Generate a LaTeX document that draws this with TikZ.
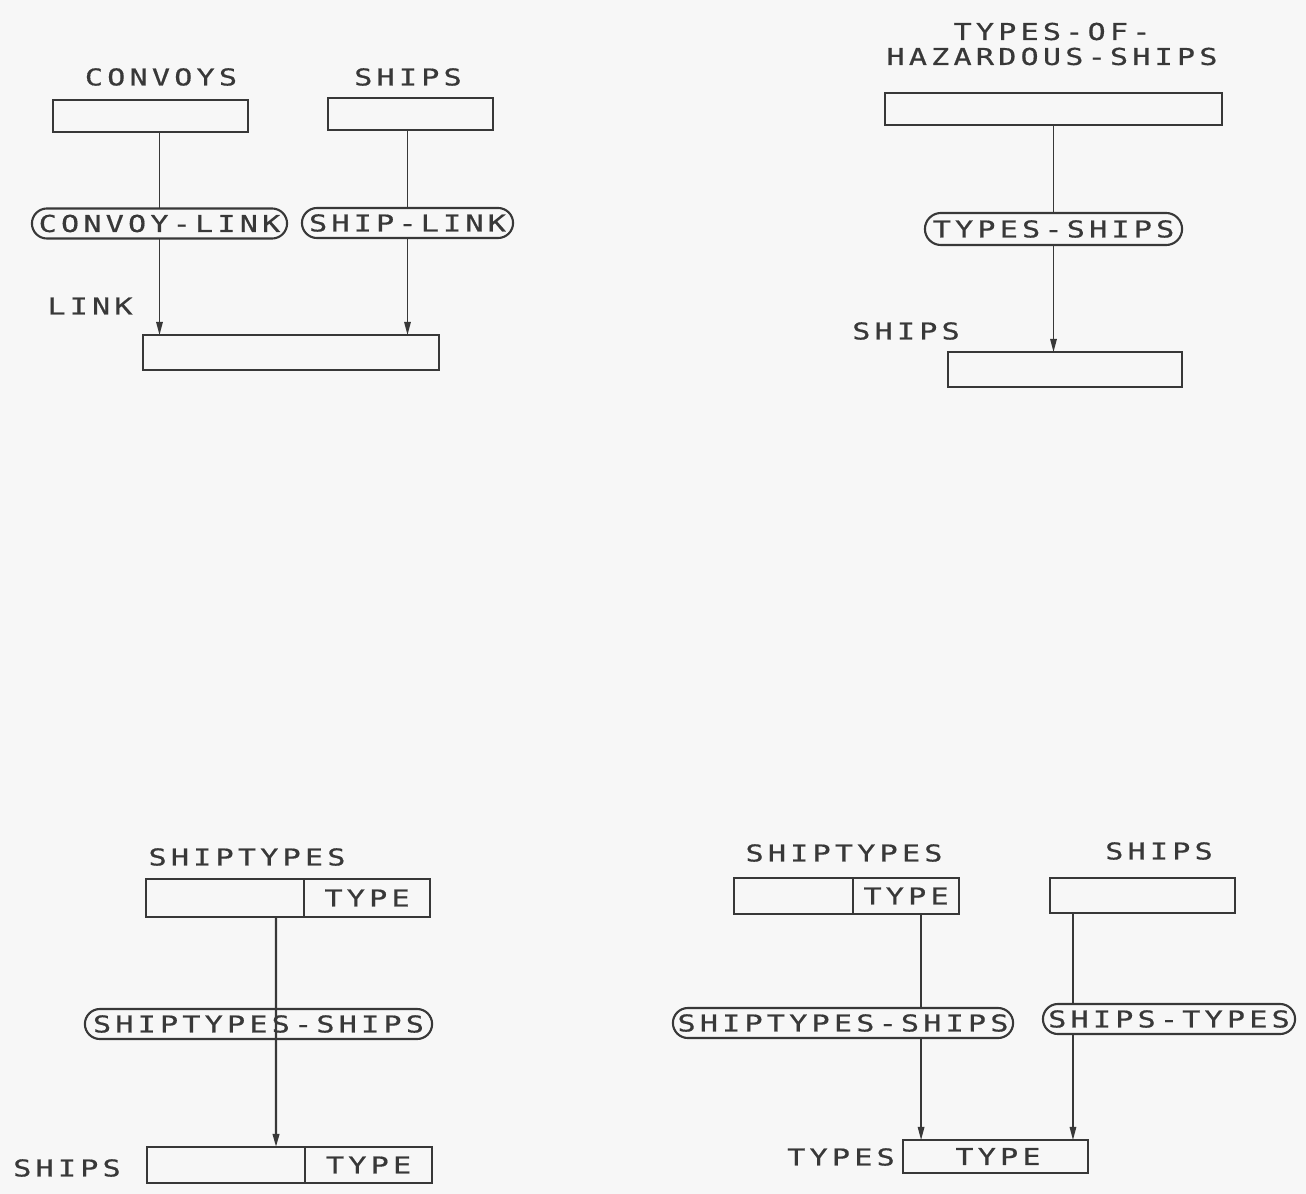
\documentclass[tikz,border=0pt]{standalone}
\usepackage{fontspec}
\usepackage{tikz}
\usetikzlibrary{positioning, arrows.meta, calc, backgrounds, shapes.misc}

\newfontfamily\plotter[FakeStretch=1.3, LetterSpace=18, FakeBold=0.6]{DejaVu Sans Mono}
\newcommand{\plotfont}{\fontsize{6.6pt}{7.1pt}\plotter}
\definecolor{ink}{HTML}{383838}
\definecolor{paper}{HTML}{F7F7F7}

\begin{document}
\begin{tikzpicture}[
	x=0.01cm, y=-0.01cm, % pixel grid of the drawing
	line width=0.6pt,
	>={Triangle[length=1.3mm, width=0.65mm]},
	% Style for Text
	title/.style={
		inner sep=0pt,
		align=center,
		text=ink,
		font=\plotfont
	},
	% Style for Record Boxes
	field/.style={
		rectangle,
		draw=ink,
		inner sep=0pt,
		outer sep=0pt,
		minimum height=0.35cm,
		text=ink,
		font=\plotfont
	},
	% Style for Set Ovals
	relation/.style={
		rounded rectangle,
		draw=ink,
		fill=paper,
		inner sep=0pt,
		minimum height=0.30cm,
		text=ink,
		font=\plotfont
	},
	% Arrow Style
	connection/.style={->, draw=ink}
	]
	
	% --- TOP LEFT: LINK RECORD ---
	
	\node[title] (convoysL) at (161,77) {CONVOYS};
	\node[field, minimum width=1.95cm, minimum height=0.32cm] (convoys) at (150.5,116) {};
	\node[title] (shipsL) at (408,77) {SHIPS};
	\node[field, minimum width=1.65cm, minimum height=0.32cm] (ships) at (410.5,114) {};
	
	\node[relation, minimum width=2.55cm] (convoyLink) at (159.5,223.5) {CONVOY-LINK};
	\node[relation, minimum width=2.11cm] (shipLink) at (407.5,223) {SHIP-LINK};
	
	\node[field, minimum width=2.96cm] (link) at (291,352.5) {};
	\node[title] (linkL) at (90,306) {LINK};
	
	% --- TOP RIGHT: HAZARDOUS TYPES ---
	
	\node[title] (hazardL) at (1052,44) {TYPES-OF-\\HAZARDOUS-SHIPS};
	\node[field, minimum width=3.37cm, minimum height=0.32cm] (hazard) at (1053.5,109) {};
	\node[relation, minimum width=2.57cm, minimum height=0.32cm] (typesShips) at (1053.5,229) {TYPES-SHIPS};
	\node[field, minimum width=2.34cm] (hazShips) at (1065,369.5) {};
	\node[title] (hazShipsL) at (906,331) {SHIPS};
	
	% --- BOTTOM LEFT: SHIPTYPES OWNS SHIPS ---
	
	\node[title] (shiptypesL) at (247,857) {SHIPTYPES};
	\node[field, minimum width=1.58cm, minimum height=0.38cm] (shiptypes) at (225,898) {};
	\node[field, minimum width=1.26cm, minimum height=0.38cm, right=0pt of shiptypes] (shiptypesType) {TYPE};
	\node[relation, minimum width=3.47cm, fill=none] (stShips) at (258.5,1024) {SHIPTYPES-SHIPS};
	\node[field, minimum width=1.58cm, minimum height=0.36cm] (typedShips) at (226,1165) {};
	\node[field, minimum width=1.27cm, minimum height=0.36cm, right=0pt of typedShips] (typedShipsType) {TYPE};
	\node[title] (typedShipsL) at (67,1168) {SHIPS};
	
	% line runs straight through the oval here
	\draw[connection] ([xshift=-2.8mm]shiptypes.south east) -- ([xshift=-2.9mm]typedShips.north east);
	
	% --- BOTTOM RIGHT: TYPES LINK RECORD ---
	
	\node[title] (shiptypes2L) at (844,853) {SHIPTYPES};
	\node[field, minimum width=1.19cm, minimum height=0.36cm] (shiptypes2) at (793.5,896) {};
	\node[field, minimum width=1.06cm, minimum height=0.36cm, right=0pt of shiptypes2] (shiptypes2Type) {TYPE};
	\node[title] (ships2L) at (1159,851) {SHIPS};
	\node[field, minimum width=1.85cm] (ships2) at (1142.5,895.5) {};
	
	\node[relation, minimum width=3.40cm] (stShips2) at (843,1023) {SHIPTYPES-SHIPS};
	\node[relation, minimum width=2.52cm] (shipsTypes) at (1169,1019) {SHIPS-TYPES};
	
	\node[field, minimum width=1.85cm, minimum height=0.33cm] (types) at (995.5,1156.5) {\hspace{0.05cm}TYPE};
	\node[title] (typesL) at (841,1157) {TYPES};
	
	% --- CONNECTIONS (behind the ovals) ---
	
	\begin{scope}[on background layer]
		\fill[paper] (0,0) rectangle (1306,1194);
		\draw[connection] (convoys.south -| convoyLink.north) -- (convoyLink.north |- link.north);
		\draw[connection] (ships.south -| shipLink.north) -- (shipLink.north |- link.north);
		\draw[connection] (hazard.south) -- (hazard.south |- hazShips.north);
		\draw[connection] ([xshift=-3.8mm]shiptypes2Type.south east) -- ([xshift=-3.8mm]shiptypes2Type.south east |- types.north);
		\draw[connection] ([xshift=2.3mm]ships2.south west) -- ([xshift=2.3mm]ships2.south west |- types.north);
	\end{scope}
	
	\useasboundingbox (0,0) rectangle (1306,1194);
	
\end{tikzpicture}
\end{document}
